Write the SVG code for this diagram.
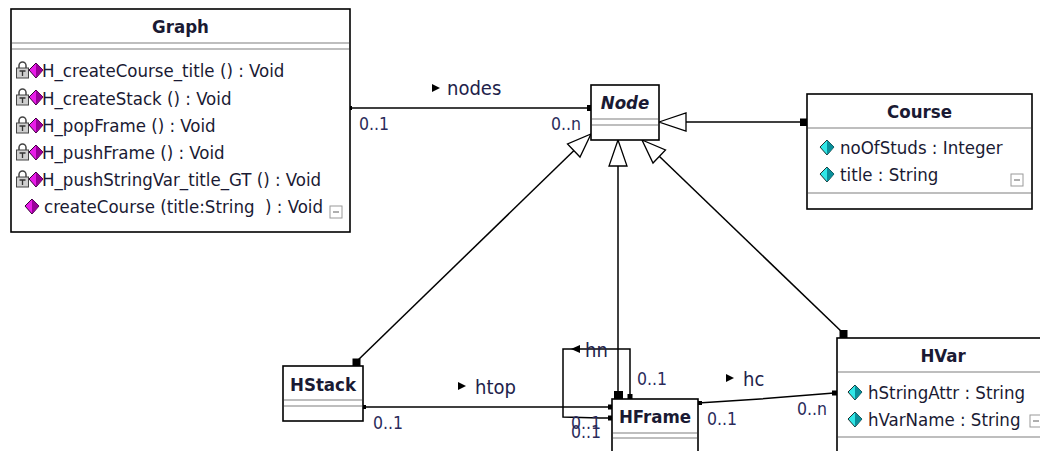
<svg xmlns="http://www.w3.org/2000/svg" width="1040" height="451" viewBox="0 0 1040 451">
<style>
  text { font-family: "DejaVu Sans Condensed", "DejaVu Sans", sans-serif; font-size: 18.5px; fill: #1a1a33; }
  .title { font-weight: bold; text-anchor: middle; }
  .it { font-style: italic; }
  .box { fill: #ffffff; stroke: #000000; stroke-width: 1.6; }
  .sep { stroke: #a8a8a8; stroke-width: 1.4; }
  .ln { fill: none; stroke: #000000; stroke-width: 1.5; }
  .gen { fill: #ffffff; stroke: #000000; stroke-width: 1.3; }
  .mult { fill: #2a2a5a; font-size: 17.5px; }
  .lbl { font-size: 20px; fill: #22224a; }
</style>
<defs>
  <g id="lock">
    <path d="M3,6 V3.5 a3.5,3.5 0 0 1 7,0 V6" fill="none" stroke="#444" stroke-width="1.5"/>
    <rect x="0.5" y="6" width="12" height="10" fill="#cfcfcf" stroke="#444" stroke-width="1"/>
    <path d="M3.5,9 H9.5 M6.5,9 V14" stroke="#333" stroke-width="1.3"/>
  </g>
  <g id="opdia">
    <polygon points="7,0 14,7 7,15 0,7" fill="#e81ce8" stroke="#300030" stroke-width="1"/>
    <polygon points="7,0 14,7 7,15 7,7" fill="#9a009a"/>
  </g>
  <g id="attdia">
    <polygon points="7,0 14,7 7,15 0,7" fill="#30e6e6" stroke="#203030" stroke-width="1"/>
    <polygon points="7,0 14,7 7,15 7,7" fill="#0a8f9a"/>
  </g>
  <g id="collapse">
    <rect x="0" y="0" width="12" height="12" fill="#ffffff" stroke="#9a9a9a" stroke-width="1"/>
    <line x1="3" y1="6" x2="9" y2="6" stroke="#7a7a7a" stroke-width="1.2"/>
  </g>
  <polygon id="navarrow" points="0,-4 8,0 0,4" fill="#000000"/>
</defs>

<g id="connectors">
  <!-- nodes: Graph -> Node -->
  <line class="ln" x1="350" y1="108" x2="591" y2="108"/>
  <rect x="348" y="106" width="4" height="4" fill="#000"/>
  <rect x="587" y="105" width="5" height="6" fill="#000"/>
  <use href="#navarrow" x="432" y="88"/>
  <text class="lbl" x="447" y="95">nodes</text>
  <text class="mult" x="359" y="130">0..1</text>
  <text class="mult" x="551" y="130">0..n</text>

  <!-- Course generalizes Node -->
  <line class="ln" x1="807" y1="122" x2="686" y2="122"/>
  <polygon class="gen" points="659,122 686,113 686,131"/>
  <rect x="800" y="118.5" width="7" height="7.5" fill="#000"/>

  <!-- HStack generalizes Node -->
  <line class="ln" x1="356" y1="362" x2="574" y2="150.5"/>
  <polygon class="gen" points="591,134 580,157 567.5,144"/>
  <rect x="352.5" y="358.5" width="8" height="7.5" fill="#000"/>

  <!-- HFrame generalizes Node -->
  <line class="ln" x1="618" y1="166" x2="618" y2="393"/>
  <polygon class="gen" points="618,140 609,166 627,166"/>
  <rect x="614" y="391" width="9" height="8" fill="#000"/>

  <!-- HVar generalizes Node -->
  <line class="ln" x1="659.5" y1="156.5" x2="843" y2="333"/>
  <polygon class="gen" points="642,140 665.5,150 653,163"/>
  <rect x="839.5" y="330" width="8" height="8" fill="#000"/>

  <!-- htop: HStack -> HFrame -->
  <line class="ln" x1="363" y1="407" x2="612" y2="407"/>
  <rect x="362" y="405" width="4" height="4" fill="#000"/>
  <rect x="608" y="404.5" width="5" height="5" fill="#000"/>
  <use href="#navarrow" x="458" y="386"/>
  <text class="lbl" x="475" y="394">htop</text>
  <text class="mult" x="373" y="429">0..1</text>

  <!-- hn: HFrame self association -->
  <polyline class="ln" points="612,418 600,418 563,417 563,349 630,349 630,397"/>
  <rect x="608" y="415.5" width="5" height="5" fill="#000"/>
  <rect x="627.5" y="394" width="5" height="5" fill="#000"/>
  <polygon points="580,345 571,349 580,353" fill="#000"/>
  <text class="lbl" x="585" y="357">hn</text>
  <text class="mult" x="637" y="385">0..1</text>
  <text class="mult" x="571" y="429">0..1</text>
  <text class="mult" x="571" y="438">0..1</text>

  <!-- hc: HFrame -> HVar -->
  <polyline class="ln" points="698,403 760,399 834,393"/>
  <rect x="698" y="401" width="4" height="4" fill="#000"/>
  <rect x="832" y="390.5" width="5" height="5" fill="#000"/>
  <use href="#navarrow" x="726" y="378"/>
  <text class="lbl" x="743" y="386">hc</text>
  <text class="mult" x="707" y="425">0..1</text>
  <text class="mult" x="797" y="415">0..n</text>
</g>

<g id="Graph">
  <rect class="box" x="11" y="9" width="339" height="223"/>
  <text class="title" x="180.5" y="33">Graph</text>
  <line class="sep" x1="12" y1="43" x2="349" y2="43"/>
  <line class="sep" x1="12" y1="49" x2="349" y2="49"/>
  <use href="#lock" x="16" y="62"/>
  <use href="#opdia" x="29" y="63"/>
  <text x="42" y="77">H_createCourse_title () : Void</text>
  <use href="#lock" x="16" y="89"/>
  <use href="#opdia" x="29" y="90"/>
  <text x="42" y="105">H_createStack () : Void</text>
  <use href="#lock" x="16" y="117"/>
  <use href="#opdia" x="29" y="118"/>
  <text x="42" y="132">H_popFrame () : Void</text>
  <use href="#lock" x="16" y="144"/>
  <use href="#opdia" x="29" y="145"/>
  <text x="42" y="159">H_pushFrame () : Void</text>
  <use href="#lock" x="16" y="171"/>
  <use href="#opdia" x="29" y="172"/>
  <text x="42" y="186">H_pushStringVar_title_GT () : Void</text>
  <use href="#opdia" x="25" y="199"/>
  <text x="44" y="213" xml:space="preserve">createCourse (title:String  ) : Void</text>
  <use href="#collapse" x="330" y="206"/>
</g>

<g id="Node">
  <rect class="box" x="591" y="85" width="68" height="55"/>
  <text class="title it" x="625" y="109">Node</text>
  <line class="sep" x1="592" y1="119" x2="658" y2="119"/>
  <line class="sep" x1="592" y1="125" x2="658" y2="125"/>
</g>

<g id="Course">
  <rect class="box" x="807" y="94" width="225" height="115"/>
  <text class="title" x="919.5" y="118">Course</text>
  <line class="sep" x1="808" y1="128" x2="1031" y2="128"/>
  <use href="#attdia" x="820" y="140"/>
  <text x="840" y="154">noOfStuds : Integer</text>
  <use href="#attdia" x="820" y="167"/>
  <text x="840" y="181">title : String</text>
  <use href="#collapse" x="1011" y="174"/>
  <line class="sep" x1="808" y1="193" x2="1031" y2="193"/>
</g>

<g id="HStack">
  <rect class="box" x="283" y="366" width="80" height="55"/>
  <text class="title" x="323" y="391">HStack</text>
  <line class="sep" x1="284" y1="400" x2="362" y2="400"/>
  <line class="sep" x1="284" y1="406" x2="362" y2="406"/>
</g>

<g id="HFrame">
  <rect class="box" x="612" y="399" width="86" height="62"/>
  <text class="title" x="655" y="423">HFrame</text>
  <line class="sep" x1="613" y1="433" x2="697" y2="433"/>
  <line class="sep" x1="613" y1="438" x2="697" y2="438"/>
</g>

<g id="HVar">
  <rect class="box" x="837" y="338" width="215" height="125"/>
  <text class="title" x="943" y="362">HVar</text>
  <line class="sep" x1="838" y1="372" x2="1040" y2="372"/>
  <use href="#attdia" x="848" y="385"/>
  <text x="868" y="399">hStringAttr : String</text>
  <use href="#attdia" x="848" y="412"/>
  <text x="868" y="426">hVarName : String</text>
  <use href="#collapse" x="1030" y="415"/>
  <line class="sep" x1="838" y1="437" x2="1040" y2="437"/>
</g>
</svg>
